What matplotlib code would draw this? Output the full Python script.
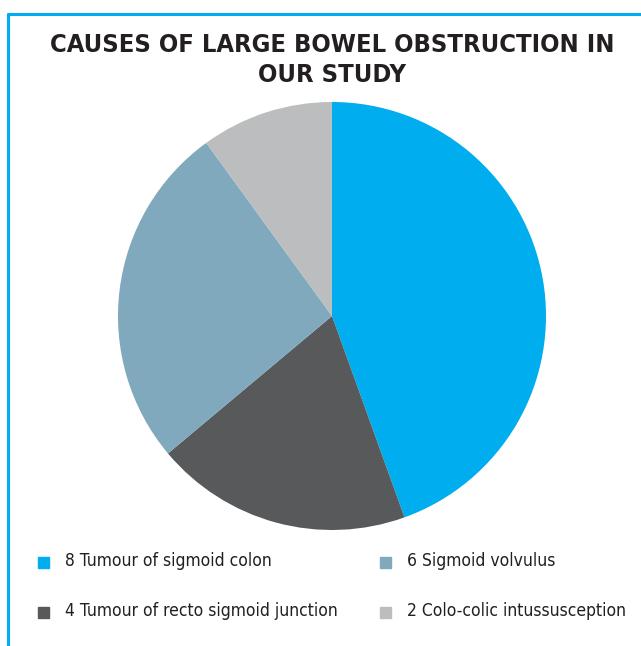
import matplotlib.pyplot as plt
from matplotlib.lines import Line2D
from matplotlib.patches import Rectangle

## Data (slice shares in %, legend labels)
labels = ['8 Tumour of sigmoid colon', '4 Tumour of recto sigmoid junction',
          '6 Sigmoid volvulus', '2 Colo-colic intussusception']
shares = [44.5, 19.4, 26.1, 10.0]
colors = ['#00AEEF', '#58595B', '#80A9BD', '#BCBDBF']

W, H = 641, 646

fig = plt.figure(figsize=(W / 100, H / 100), dpi=100)

## Pie, centre at (332, 316) px, radius 214 px
cx, cy, r = 332, 316, 214
ax = fig.add_axes([(cx - r) / W, (H - cy - r) / H, 2 * r / W, 2 * r / H])
ax.pie(shares, colors=colors, startangle=90, counterclock=False,
       wedgeprops={'linewidth': 0})
ax.set_xlim(-1, 1)
ax.set_ylim(-1, 1)
ax.set_aspect('equal')
ax.axis('off')

## Title
fig.text(332 / W, 1 - 60 / H, 'CAUSES OF LARGE BOWEL OBSTRUCTION IN\nOUR STUDY',
         ha='center', va='center', fontsize=18.3, fontweight='bold',
         family='DejaVu Sans', fontstretch='condensed', color='#231F20',
         linespacing=1.32)

## Frame lines (top and left)
fig.add_artist(Line2D([7 / W, 1], [1 - 14 / H] * 2, color='#00AEEF', lw=2.2,
                      solid_capstyle='butt', transform=fig.transFigure))
fig.add_artist(Line2D([8 / W] * 2, [1 - 13 / H, 0], color='#00AEEF', lw=2.2,
                      solid_capstyle='butt', transform=fig.transFigure))

## Legend (2 columns x 2 rows)
order = [0, 2, 1, 3]
pos = [(38, 562), (380, 562), (38, 612), (380, 612)]
for i, (x, y) in zip(order, pos):
    fig.add_artist(Rectangle((x / W, 1 - (y + 5.5) / H), 11 / W, 11 / H,
                             color=colors[i], transform=fig.transFigure))
    fig.text((x + 27) / W, 1 - (y - 1) / H, labels[i], ha='left', va='center',
             fontsize=12.5, family='DejaVu Sans', fontstretch='condensed',
             color='#231F20')

fig.savefig('out.png', dpi=100)
